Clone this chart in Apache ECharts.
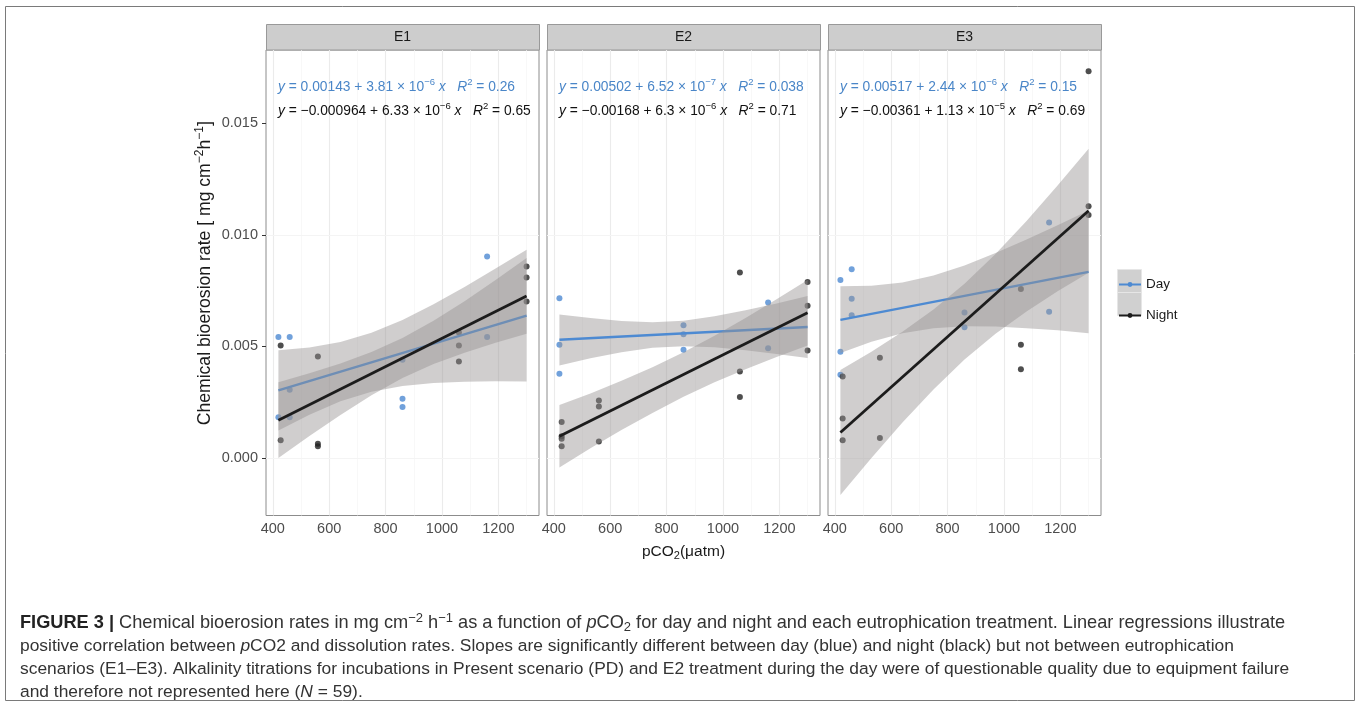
<!DOCTYPE html>
<html><head><meta charset="utf-8">
<script src="https://cdn.jsdelivr.net/npm/echarts@6.0.0/dist/echarts.min.js"></script>
<style>html,body{margin:0;padding:0;background:#fff}#c{width:1357px;height:706px}</style>
</head><body><div id="c"></div>
<script>
// ---------- data ----------
const panelNames = ['E1', 'E2', 'E3'];
const pco2Ticks = [400, 600, 800, 1000, 1200];
const pco2Minor = [500, 700, 900, 1100, 1300];
const rateTicks = [0, 0.005, 0.010, 0.015];
const rateMinor = [-0.0025, 0.0025, 0.0075, 0.0125, 0.0175];
const rateTickLabels = ['0.000', '0.005', '0.010', '0.015'];

const dayE1 = [[420,0.00542],[460,0.00542],[460,0.00306],[420,0.00183],[460,0.00183],[860,0.00265],[860,0.00228],[860,0.00440],[1160,0.00903],[1160,0.00542]];
const nightE1 = [[428,0.00504],[428,0.00079],[560,0.00455],[560,0.00064],[560,0.00052],[1060,0.00562],[1060,0.00504],[1060,0.00432],[1300,0.00858],[1300,0.00809],[1300,0.00701]];
const dayE2 = [[420,0.00716],[420,0.00507],[420,0.00377],[860,0.00595],[860,0.00555],[860,0.00485],[1160,0.00697],[1160,0.00492]];
const nightE2 = [[428,0.00161],[428,0.00097],[428,0.00086],[428,0.00052],[560,0.00258],[560,0.00231],[560,0.00074],[1060,0.00831],[1060,0.00388],[1060,0.00273],[1300,0.00789],[1300,0.00682],[1300,0.00482]];
const dayE3 = [[420,0.00798],[460,0.00846],[460,0.00714],[460,0.00640],[420,0.00476],[420,0.00373],[860,0.00652],[860,0.00586],[1160,0.01056],[1160,0.00655]];
const nightE3 = [[428,0.00365],[428,0.00177],[428,0.00079],[560,0.00449],[560,0.00090],[1060,0.00758],[1060,0.00508],[1060,0.00398],[1300,0.01734],[1300,0.01129],[1300,0.01089]];

// fitted lines (end points)
const dayFitE1 = [[420,0.00303],[1300,0.00638]];
const nightFitE1 = [[420,0.00169],[1300,0.00726]];
const dayFitE2 = [[420,0.00530],[1300,0.00587]];
const nightFitE2 = [[420,0.00097],[1300,0.00651]];
const dayFitE3 = [[420,0.00619],[1300,0.00834]];
const nightFitE3 = [[420,0.00114],[1300,0.01108]];

// confidence bands (read at these pCO2 values)
const bandX = [420, 530, 640, 750, 860, 970, 1080, 1190, 1300];
const dayLoE1 = [0.00123,0.00194,0.00254,0.00297,0.00323,0.00336,0.00342,0.00344,0.00343];
const dayHiE1 = [0.00483,0.00495,0.00520,0.00561,0.00619,0.00689,0.00767,0.00849,0.00934];
const nightLoE1 = [0.00000,0.00098,0.00193,0.00281,0.00358,0.00421,0.00472,0.00516,0.00557];
const nightHiE1 = [0.00339,0.00380,0.00424,0.00475,0.00538,0.00615,0.00703,0.00798,0.00897];
const dayLoE2 = [0.00415,0.00447,0.00474,0.00494,0.00501,0.00496,0.00483,0.00466,0.00448];
const dayHiE2 = [0.00643,0.00627,0.00614,0.00608,0.00615,0.00635,0.00662,0.00693,0.00726];
const nightLoE2 = [-0.00043,0.00043,0.00125,0.00202,0.00274,0.00339,0.00398,0.00453,0.00504];
const nightHiE2 = [0.00237,0.00289,0.00346,0.00407,0.00474,0.00548,0.00627,0.00711,0.00798];
const dayLoE3 = [0.00470,0.00521,0.00559,0.00582,0.00590,0.00589,0.00582,0.00572,0.00559];
const dayHiE3 = [0.00770,0.00772,0.00787,0.00818,0.00863,0.00919,0.00979,0.01043,0.01109];
const nightLoE3 = [-0.00166,0.00000,0.00159,0.00307,0.00441,0.00557,0.00657,0.00747,0.00830];
const nightHiE3 = [0.00394,0.00476,0.00566,0.00666,0.00781,0.00914,0.01062,0.01221,0.01386];

const dayEqs = [
  '{i|y} = 0.00143 + 3.81 × 10{sup|−6} {i|x}   {i|R}{sup|2} = 0.26',
  '{i|y} = 0.00502 + 6.52 × 10{sup|−7} {i|x}   {i|R}{sup|2} = 0.038',
  '{i|y} = 0.00517 + 2.44 × 10{sup|−6} {i|x}   {i|R}{sup|2} = 0.15'
];
const nightEqs = [
  '{i|y} = −0.000964 + 6.33 × 10{sup|−6} {i|x}   {i|R}{sup|2} = 0.65',
  '{i|y} = −0.00168 + 6.3 × 10{sup|−6} {i|x}   {i|R}{sup|2} = 0.71',
  '{i|y} = −0.00361 + 1.13 × 10{sup|−5} {i|x}   {i|R}{sup|2} = 0.69'
];
const captionLines = [
  '{b|FIGURE 3 |} Chemical bioerosion rates in mg cm{sup|−2} h{sup|−1} as a function of {i|p}CO{sub|2} for day and night and each eutrophication treatment. Linear regressions illustrate',
  'positive correlation between {i|p}CO2 and dissolution rates. Slopes are significantly different between day (blue) and night (black) but not between eutrophication',
  'scenarios (E1–E3). Alkalinity titrations for incubations in Present scenario (PD) and E2 treatment during the day were of questionable quality due to equipment failure',
  'and therefore not represented here ({i|N} = 59).'
];

// ---------- chart ----------
const FONT = 'Liberation Sans, Arial, sans-serif';
const BLUE = '#4d8ad2';
const BLACK = '#1c1c1c';
const BAND = 'rgba(150,146,146,0.45)';
const gridLefts = [266, 547, 828];
const GW = 273, GT = 50, GH = 465.5;
const XMIN = 376, XMAX = 1344, YMIN = -0.00258, YMAX = 0.01829;
const EQ_FS = 13.8;

const days = [dayE1, dayE2, dayE3];
const nights = [nightE1, nightE2, nightE3];
const dayFits = [dayFitE1, dayFitE2, dayFitE3];
const nightFits = [nightFitE1, nightFitE2, nightFitE3];
const dayLos = [dayLoE1, dayLoE2, dayLoE3], dayHis = [dayHiE1, dayHiE2, dayHiE3];
const nightLos = [nightLoE1, nightLoE2, nightLoE3], nightHis = [nightHiE1, nightHiE2, nightHiE3];

function bandSeries(name, gi, lo, hi, z) {
  const data = bandX.map((x, i) => [x, lo[i], hi[i]]);
  return {
    type: 'custom', name: name, xAxisIndex: gi, yAxisIndex: gi, z: z, silent: true,
    data: data, encode: { x: 0, y: [1, 2] },
    renderItem: function (params, api) {
      if (params.dataIndex !== 0) return null;
      const up = data.map(d => api.coord([d[0], d[2]]));
      const dn = data.map(d => api.coord([d[0], d[1]])).reverse();
      return { type: 'polygon', shape: { points: up.concat(dn) }, style: { fill: BAND } };
    }
  };
}

const gridLines = [].concat(
  pco2Ticks.map(v => ({ xAxis: v, lineStyle: { color: '#ebebeb', width: 1.1, type: 'solid' } })),
  pco2Minor.map(v => ({ xAxis: v, lineStyle: { color: '#f5f5f5', width: 0.7, type: 'solid' } })),
  rateTicks.map(v => ({ yAxis: v, lineStyle: { color: '#ebebeb', width: 1.1, type: 'solid' } })),
  rateMinor.map(v => ({ yAxis: v, lineStyle: { color: '#f5f5f5', width: 0.7, type: 'solid' } }))
);

const grids = [], xAxes = [], yAxes = [], series = [], graphics = [];
const supRich = {
  i: { fontStyle: 'italic', fontSize: EQ_FS, fontFamily: FONT, lineHeight: 19 },
  sup: { fontSize: 9.5, fontFamily: FONT, lineHeight: 9, verticalAlign: 'top' }
};

panelNames.forEach((p, gi) => {
  grids.push({ left: gridLefts[gi], top: GT, width: GW, height: GH, show: true,
    backgroundColor: '#fff', borderColor: '#8c8c8c', borderWidth: 1 });
  const xa = {
    type: 'value', gridIndex: gi, min: XMIN, max: XMAX,
    axisLine: { show: false },
    axisTick: { show: true, customValues: pco2Ticks, length: 4, lineStyle: { color: '#333' } },
    axisLabel: { customValues: pco2Ticks, color: '#4d4d4d', fontSize: 14.5, fontFamily: FONT, margin: 6,
      formatter: v => String(Math.round(v)) },
    splitLine: { show: false }
  };
  if (gi === 1) {
    xa.name = 'pCO{s|2}(μatm)';
    xa.nameLocation = 'middle';
    xa.nameGap = 27;
    xa.nameTextStyle = { fontSize: 15.5, color: '#1a1a1a', fontFamily: FONT, lineHeight: 19,
      rich: { s: { fontSize: 11, fontFamily: FONT, color: '#1a1a1a', lineHeight: 10, verticalAlign: 'bottom' } } };
  }
  xAxes.push(xa);
  const ya = {
    type: 'value', gridIndex: gi, min: YMIN, max: YMAX,
    axisLine: { show: false },
    axisTick: { show: gi === 0, customValues: rateTicks, length: 4, lineStyle: { color: '#333' } },
    axisLabel: { show: gi === 0, customValues: rateTicks, color: '#4d4d4d', fontSize: 14.5, fontFamily: FONT, margin: 8,
      formatter: v => rateTickLabels[rateTicks.indexOf(Math.round(v * 1000) / 1000)] || '' },
    splitLine: { show: false }
  };
  if (gi === 0) {
    ya.name = 'Chemical bioerosion rate [ mg cm{sup|−2}h{sup|−1}]';
    ya.nameLocation = 'middle';
    ya.nameGap = 50;
    ya.nameRotate = 90;
    ya.nameTextStyle = { fontSize: 17.6, color: '#1a1a1a', fontFamily: FONT, lineHeight: 22, padding: [0, 0, 0, 19],
      rich: { sup: { fontSize: 12, fontFamily: FONT, color: '#1a1a1a', lineHeight: 11, verticalAlign: 'top' } } };
  }
  yAxes.push(ya);

  series.push({ type: 'scatter', name: 'Day points', xAxisIndex: gi, yAxisIndex: gi, z: 2, silent: true,
    data: days[gi], symbolSize: 6, itemStyle: { color: BLUE },
    markLine: { silent: true, z: 1, symbol: ['none', 'none'], label: { show: false }, animation: false, data: gridLines } });
  series.push({ type: 'scatter', name: 'Night points', xAxisIndex: gi, yAxisIndex: gi, z: 2, silent: true,
    data: nights[gi], symbolSize: 6, itemStyle: { color: '#222' } });
  series.push(bandSeries('Day band', gi, dayLos[gi], dayHis[gi], 3));
  series.push({ type: 'line', name: 'Day', xAxisIndex: gi, yAxisIndex: gi, z: 4, silent: true,
    data: dayFits[gi], symbol: 'circle', showSymbol: false, symbolSize: 5,
    lineStyle: { color: BLUE, width: 2.4 }, itemStyle: { color: BLUE } });
  series.push(bandSeries('Night band', gi, nightLos[gi], nightHis[gi], 5));
  series.push({ type: 'line', name: 'Night', xAxisIndex: gi, yAxisIndex: gi, z: 6, silent: true,
    data: nightFits[gi], symbol: 'circle', showSymbol: false, symbolSize: 5,
    lineStyle: { color: BLACK, width: 2.8 }, itemStyle: { color: BLACK } });

  // strip
  graphics.push({ type: 'rect', shape: { x: gridLefts[gi] + 0.5, y: 24.5, width: GW, height: 25.5 },
    style: { fill: '#cdcdcd', stroke: '#999', lineWidth: 1 }, z: 1 });
  graphics.push({ type: 'text', x: gridLefts[gi] + GW / 2, y: 37.5, z: 2,
    style: { text: p, fill: '#1a1a1a', fontSize: 14, fontFamily: FONT, align: 'center', verticalAlign: 'middle' } });
  // equations
  graphics.push({ type: 'text', x: gridLefts[gi] + 12, y: 87, z: 10,
    style: { text: dayEqs[gi], fill: '#4a86c8', fontSize: EQ_FS, fontFamily: FONT, lineHeight: 19, verticalAlign: 'middle',
      rich: { i: Object.assign({ fill: '#4a86c8' }, supRich.i), sup: Object.assign({ fill: '#4a86c8' }, supRich.sup) } } });
  graphics.push({ type: 'text', x: gridLefts[gi] + 12, y: 111, z: 10,
    style: { text: nightEqs[gi], fill: '#111', fontSize: EQ_FS, fontFamily: FONT, lineHeight: 19, verticalAlign: 'middle',
      rich: { i: Object.assign({ fill: '#111' }, supRich.i), sup: Object.assign({ fill: '#111' }, supRich.sup) } } });
});

// legend key backgrounds
graphics.push({ type: 'rect', shape: { x: 1117.5, y: 269.5, width: 24, height: 23 }, style: { fill: '#d0d0d0', stroke: '#e6e6e6', lineWidth: 1 }, z: 0 });
graphics.push({ type: 'rect', shape: { x: 1117.5, y: 292.5, width: 24, height: 23 }, style: { fill: '#d0d0d0', stroke: '#e6e6e6', lineWidth: 1 }, z: 0 });

// outer frame
graphics.push({ type: 'rect', shape: { x: 5.5, y: 6.5, width: 1349, height: 694 }, style: { fill: 'none', stroke: '#7a7a7a', lineWidth: 1 }, z: 0 });

// caption
captionLines.forEach((t, k) => {
  const fs = k === 0 ? 18.2 : 17.4;
  const sfs = k === 0 ? 13 : 12.5;
  graphics.push({ type: 'text', x: 20, y: 623 + k * 23, z: 10,
    style: { text: t, fill: '#333', fontSize: fs, fontFamily: FONT, lineHeight: 22, verticalAlign: 'middle',
      rich: {
        b: { fontWeight: 'bold', fill: '#222', fontSize: fs, fontFamily: FONT, lineHeight: 22 },
        i: { fontStyle: 'italic', fill: '#333', fontSize: fs, fontFamily: FONT, lineHeight: 22 },
        sup: { fill: '#333', fontSize: sfs, fontFamily: FONT, lineHeight: 12, verticalAlign: 'top' },
        sub: { fill: '#333', fontSize: sfs, fontFamily: FONT, lineHeight: 12, verticalAlign: 'bottom' }
      } } });
});

const chart = echarts.init(document.getElementById('c'), null, { renderer: 'canvas' });
chart.setOption({
  animation: false,
  backgroundColor: '#fff',
  grid: grids, xAxis: xAxes, yAxis: yAxes, series: series,
  legend: { data: ['Day', 'Night'], orient: 'vertical', left: 1118, top: 277.5, itemWidth: 22, itemHeight: 6, itemGap: 17,
    padding: 0, selectedMode: false, textStyle: { fontSize: 13.5, color: '#1a1a1a', fontFamily: FONT } },
  graphic: graphics
});
</script></body></html>
